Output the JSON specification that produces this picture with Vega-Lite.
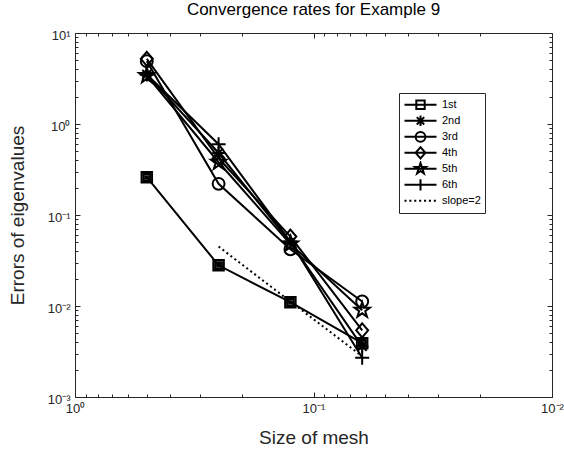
{
  "$schema": "https://vega.github.io/schema/vega-lite/v6.json",
  "width": 477,
  "height": 364,
  "autosize": {"type": "none"},
  "padding": {"left": 75, "top": 33, "right": 12, "bottom": 61},
  "background": "white",
  "title": {"text": "Convergence rates for Example 9", "font": "Liberation Sans", "fontSize": 17, "fontWeight": "normal", "color": "black", "offset": 10, "anchor": "middle"},
  "config": {
    "view": {"stroke": "#262626", "strokeWidth": 1},
    "axis": {"domain": false, "grid": false, "tickColor": "#262626", "labelColor": "#262626", "labelFont": "Liberation Sans", "labelFontSize": 13, "titleFont": "Liberation Sans", "titleFontWeight": "normal", "titleColor": "#262626", "titleFontSize": 19}
  },
  "data": {"values": [
    {"series": "1st", "h": 0.5, "err": 0.26},
    {"series": "1st", "h": 0.25, "err": 0.028},
    {"series": "1st", "h": 0.125, "err": 0.011},
    {"series": "1st", "h": 0.0625, "err": 0.0039},
    {"series": "2nd", "h": 0.5, "err": 3.5},
    {"series": "2nd", "h": 0.25, "err": 0.48},
    {"series": "2nd", "h": 0.125, "err": 0.05},
    {"series": "2nd", "h": 0.0625, "err": 0.0036},
    {"series": "3rd", "h": 0.5, "err": 4.9},
    {"series": "3rd", "h": 0.25, "err": 0.22},
    {"series": "3rd", "h": 0.125, "err": 0.042},
    {"series": "3rd", "h": 0.0625, "err": 0.0112},
    {"series": "4th", "h": 0.5, "err": 5.2},
    {"series": "4th", "h": 0.25, "err": 0.42},
    {"series": "4th", "h": 0.125, "err": 0.058},
    {"series": "4th", "h": 0.0625, "err": 0.0054},
    {"series": "5th", "h": 0.5, "err": 3.4},
    {"series": "5th", "h": 0.25, "err": 0.38},
    {"series": "5th", "h": 0.125, "err": 0.048},
    {"series": "5th", "h": 0.0625, "err": 0.009},
    {"series": "6th", "h": 0.5, "err": 3.5},
    {"series": "6th", "h": 0.25, "err": 0.6},
    {"series": "6th", "h": 0.125, "err": 0.051},
    {"series": "6th", "h": 0.0625, "err": 0.0027},
    {"series": "slope=2", "h": 0.25, "err": 0.045},
    {"series": "slope=2", "h": 0.125, "err": 0.0112},
    {"series": "slope=2", "h": 0.0625, "err": 0.0028}
  ]},
  "layer": [
    {
      "transform": [{"filter": "datum.series != 'slope=2'"}],
      "mark": {"type": "line", "color": "black", "strokeWidth": 2},
      "encoding": {
        "x": {"field": "h", "type": "quantitative", "scale": {"type": "log", "domain": [0.01, 1], "reverse": true},
          "axis": {"orient": "bottom", "title": "Size of mesh", "titlePadding": 11,
            "values": [0.01,0.02,0.03,0.04,0.05,0.06,0.07,0.08,0.09,0.1,0.2,0.3,0.4,0.5,0.6,0.7,0.8,0.9,1],
            "labelExpr": "datum.value == 1 ? '10⁰' : datum.value == 0.1 ? '10⁻¹' : datum.value == 0.01 ? '10⁻²' : ''",
            "labelPadding": 10, "labelFlush": false, "labelOverlap": false,
            "tickSize": {"condition": {"test": "abs(log(datum.value)/LN10 - round(log(datum.value)/LN10)) < 0.001", "value": -5}, "value": -3}}},
        "y": {"field": "err", "type": "quantitative", "scale": {"type": "log", "domain": [0.001, 10]},
          "axis": {"orient": "left", "title": "Errors of eigenvalues", "titlePadding": 20,
            "values": [0.001,0.002,0.003,0.004,0.005,0.006,0.007,0.008,0.009,0.01,0.02,0.03,0.04,0.05,0.06,0.07,0.08,0.09,0.1,0.2,0.3,0.4,0.5,0.6,0.7,0.8,0.9,1,2,3,4,5,6,7,8,9,10],
            "labelExpr": "datum.value == 10 ? '10¹' : datum.value == 1 ? '10⁰' : datum.value == 0.1 ? '10⁻¹' : datum.value == 0.01 ? '10⁻²' : datum.value == 0.001 ? '10⁻³' : ''",
            "labelPadding": 10, "labelFlush": false, "labelOverlap": false, "labelOffset": 2,
            "tickSize": {"condition": {"test": "abs(log(datum.value)/LN10 - round(log(datum.value)/LN10)) < 0.001", "value": -5}, "value": -3}}},
        "detail": {"field": "series"}
      }
    },
    {
      "transform": [{"filter": "datum.series == 'slope=2'"}],
      "mark": {"type": "line", "color": "black", "strokeWidth": 2, "strokeDash": [2, 3]},
      "encoding": {
        "x": {"field": "h", "type": "quantitative", "axis": null},
        "y": {"field": "err", "type": "quantitative", "axis": null}
      }
    },
    {
      "transform": [{"filter": "datum.series != 'slope=2'"}],
      "mark": {"type": "point", "filled": false, "color": "black", "strokeWidth": 2, "size": 196, "opacity": 1},
      "encoding": {
        "x": {"field": "h", "type": "quantitative", "axis": null},
        "y": {"field": "err", "type": "quantitative", "axis": null},
        "shape": {"field": "series", "type": "nominal", "legend": null,
          "scale": {"domain": ["1st", "2nd", "3rd", "4th", "5th", "6th"],
            "range": [
              "M-0.75,-0.75H0.75V0.75H-0.75Z M-0.45,-0.45H0.45V0.45H-0.45Z M-0.15,-0.15H0.15V0.15H-0.15Z",
              "M-0.9,0H0.9M0,-0.9V0.9M-0.64,-0.64L0.64,0.64M-0.64,0.64L0.64,-0.64",
              "M-0.85,0A0.85,0.85 0 1,0 0.85,0A0.85,0.85 0 1,0 -0.85,0Z",
              "M0,-1L0.85,0L0,1L-0.85,0Z",
              "M0,-1.15L0.26,-0.36L1.09,-0.36L0.43,0.14L0.68,0.93L0,0.45L-0.68,0.93L-0.43,0.14L-1.09,-0.36L-0.26,-0.36Z",
              "M-1,0H1M0,-1V1"
            ]}}
      }
    },
    {
      "mark": {"type": "point", "filled": false, "color": "black", "strokeWidth": 2, "size": 16, "opacity": 0},
      "encoding": {
        "x": {"field": "h", "type": "quantitative",
          "axis": {"orient": "top", "title": null, "labels": false,
            "values": [0.01,0.02,0.03,0.04,0.05,0.06,0.07,0.08,0.09,0.1,0.2,0.3,0.4,0.5,0.6,0.7,0.8,0.9,1],
            "tickSize": {"condition": {"test": "abs(log(datum.value)/LN10 - round(log(datum.value)/LN10)) < 0.001", "value": -5}, "value": -3}}},
        "y": {"field": "err", "type": "quantitative",
          "axis": {"orient": "right", "title": null, "labels": false,
            "values": [0.001,0.002,0.003,0.004,0.005,0.006,0.007,0.008,0.009,0.01,0.02,0.03,0.04,0.05,0.06,0.07,0.08,0.09,0.1,0.2,0.3,0.4,0.5,0.6,0.7,0.8,0.9,1,2,3,4,5,6,7,8,9,10],
            "tickSize": {"condition": {"test": "abs(log(datum.value)/LN10 - round(log(datum.value)/LN10)) < 0.001", "value": -5}, "value": -3}}},
        "shape": {"field": "series", "type": "nominal",
          "scale": {"domain": ["1st", "2nd", "3rd", "4th", "5th", "6th", "slope=2"],
            "range": [
              "M-8,0H8M-2.1,-2.1H2.1V2.1H-2.1Z",
              "M-8,0H8M0,-2.6V2.6M-1.85,-1.85L1.85,1.85M-1.85,1.85L1.85,-1.85",
              "M-8,0H8M-2.45,0A2.45,2.45 0 1,0 2.45,0A2.45,2.45 0 1,0 -2.45,0Z",
              "M-8,0H8M0,-2.8L2.45,0L0,2.8L-2.45,0Z",
              "M-8,0H8M0,-2.9L0.64,-0.9L2.74,-0.9L1.1,0.35L1.71,2.35L0,1.13L-1.71,2.35L-1.1,0.35L-2.74,-0.9L-0.64,-0.9Z",
              "M-8,0H8M0,-2.8V2.8",
              "M-8,0H-7M-5.6,0H-4.55M-3.15,0H-2.1M-0.7,0H0.35M1.75,0H2.8M4.2,0H5.25M6.65,0H7.7"
            ]},
          "legend": {"orient": "none", "legendX": 324, "legendY": 60, "title": null,
            "strokeColor": "#262626", "fillColor": "white", "padding": 4,
            "labelFont": "Liberation Sans", "labelFontSize": 11, "labelColor": "black",
            "symbolSize": 16, "symbolStrokeWidth": 2, "symbolStrokeColor": "black", "symbolFillColor": "transparent",
            "symbolOffset": 12, "rowPadding": 0, "labelOffset": 16, "clipHeight": 15.6,
            "encode": {"symbols": {"update": {"opacity": {"value": 1}, "strokeOpacity": {"value": 1}}}}}}
      }
    }
  ],
  "resolve": {"scale": {"shape": "independent"}, "axis": {"x": "independent", "y": "independent"}, "legend": {"shape": "independent"}}
}
